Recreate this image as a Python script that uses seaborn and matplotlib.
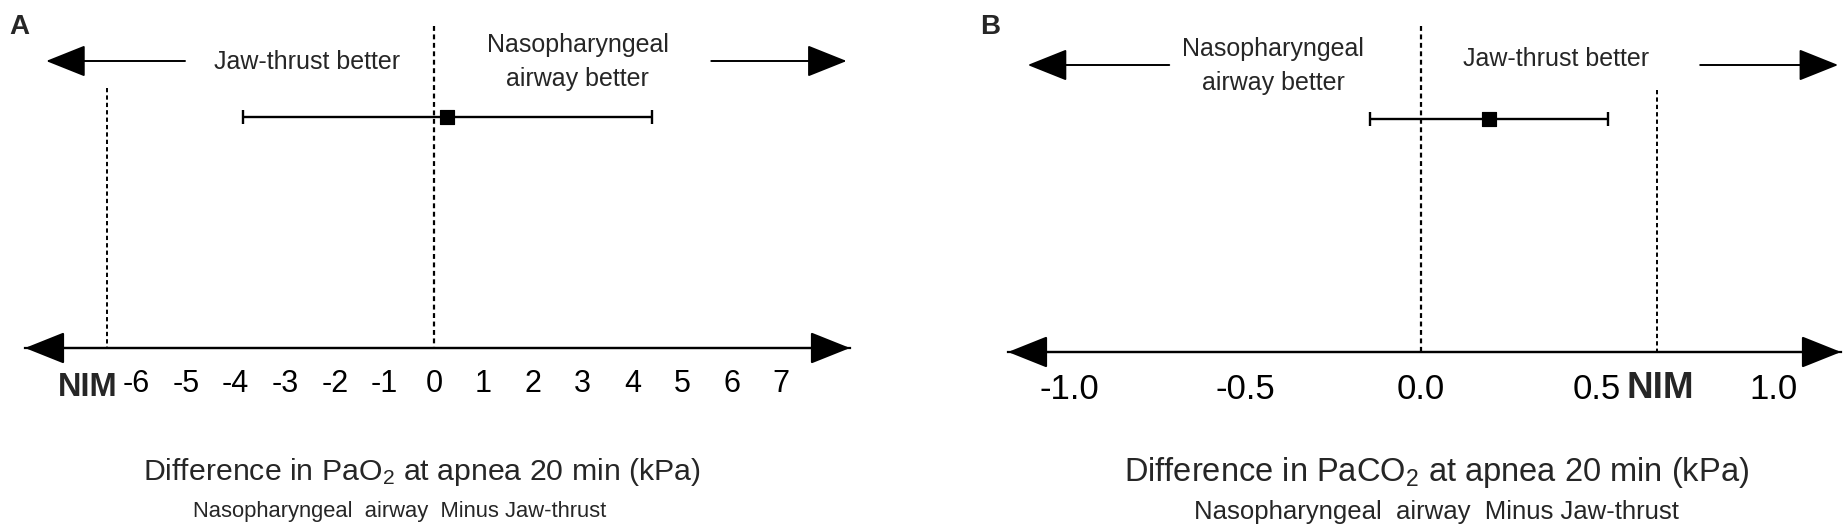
import numpy as np
import pandas as pd
import matplotlib
matplotlib.use('Agg')
import matplotlib.pyplot as plt
import seaborn as sns

# panel A: PaO2 difference (kPa)
est_a = 0.27
ci_a = [-3.85, 4.40]
nim_a = -6.6
ticks_a = [-6, -5, -4, -3, -2, -1, 0, 1, 2, 3, 4, 5, 6, 7]
ticklabels_a = ['-6', '-5', '-4', '-3', '-2', '-1', '0', '1', '2', '3', '4', '5', '6', '7']

# panel B: PaCO2 difference (kPa)
est_b = 0.193
ci_b = [-0.145, 0.53]
nim_b = 0.67
ticks_b = [-1.0, -0.5, 0.0, 0.5, 1.0]
ticklabels_b = ['-1.0', '-0.5', '0.0', '0.5', '1.0']

sns.set_style('white')
plt.rcParams['font.family'] = ['Liberation Sans', 'DejaVu Sans']
plt.rcParams['mathtext.fontset'] = 'custom'
plt.rcParams['mathtext.rm'] = 'Liberation Sans'
plt.rcParams['mathtext.it'] = 'Liberation Sans:italic'
plt.rcParams['mathtext.bf'] = 'Liberation Sans:bold'

W, H = 1845, 530
fig = plt.figure(figsize=(W / 100, H / 100), dpi=100)
fig.patch.set_facecolor('white')

ax_a = fig.add_axes([25 / W, 0, 825 / W, 1])
ax_b = fig.add_axes([1008 / W, 0, 833 / W, 1])


def draw_panel(ax, xlim, est, ci, nim, ticks, ticklabels, axis_y, bar_y,
               left_txt, right_txt, left_arrow, right_arrow, arrow_y,
               nim_x, nim_top, gas, letter, letter_x, tick_fs, title_fs,
               sub_fs, title_x, lab_y):
    ax.set_xlim(*xlim)
    ax.set_ylim(H, 0)
    ax.set_facecolor('none')
    for s in ['top', 'left', 'right']:
        ax.spines[s].set_visible(False)
    ax.spines['bottom'].set_position(('data', axis_y))
    ax.spines['bottom'].set_linewidth(1.6)
    ax.spines['bottom'].set_color('black')
    ax.set_yticks([])
    ax.set_xticks(ticks)
    ax.set_xticklabels(ticklabels)
    ax.tick_params(axis='x', direction='out', length=9, width=1.5,
                   labelsize=tick_fs, pad=6, colors='black')

    # axis arrow heads
    ax.annotate('', xy=(xlim[1], axis_y), xytext=(xlim[0], axis_y),
                arrowprops=dict(arrowstyle='<|-|>,head_length=0.45,head_width=0.18',
                                mutation_scale=56, lw=1.6, color='black',
                                shrinkA=0, shrinkB=0))

    # zero line and NIM line
    ax.vlines(0, 26, axis_y, colors='black', linestyles=(0, (2.2, 1.6)), lw=1.6)
    ax.vlines(nim, nim_top, axis_y, colors='black', linestyles=(0, (2.2, 1.6)), lw=1.4)

    # estimate with CI
    ax.errorbar(x=[est], y=[bar_y], xerr=[[est - ci[0]], [ci[1] - est]],
                fmt='none', ecolor='black', elinewidth=1.7, capsize=5, capthick=1.7)
    df = pd.DataFrame({'x': [est], 'y': [bar_y]})
    sns.scatterplot(data=df, x='x', y='y', marker='s', s=110, color='black',
                    edgecolor='black', ax=ax, zorder=5, legend=False)
    ax.set_xlabel('')
    ax.set_ylabel('')

    # direction arrows
    for (x0, x1) in [left_arrow, right_arrow]:
        ax.annotate('', xy=(x1, arrow_y), xytext=(x0, arrow_y),
                    arrowprops=dict(arrowstyle='-|>,head_length=0.45,head_width=0.18',
                                    mutation_scale=56, lw=1.4, color='black',
                                    shrinkA=0, shrinkB=0))
    ax.text(left_txt[0], left_txt[1], left_txt[2], ha='center', va='center',
            fontsize=18, linespacing=1.55)
    ax.text(right_txt[0], right_txt[1], right_txt[2], ha='center', va='center',
            fontsize=18, linespacing=1.55)

    ax.text(nim_x, lab_y, 'NIM', ha='center', va='center', fontsize=tick_fs + 1.5,
            fontweight='bold')

    ax.text(title_x[0], 472,
            r'Difference in Pa' + gas + r' at apnea 20 min (kPa)',
            ha='center', va='center', fontsize=title_fs)
    ax.text(title_x[1], 512, 'Nasopharyngeal  airway  Minus Jaw-thrust',
            ha='center', va='center', fontsize=sub_fs)

    fig.text(letter_x / W, 1 - 27 / H, letter, ha='left', va='center',
             fontsize=20, fontweight='bold')


# panel A: x pixel = 434 + 49.6 * value
draw_panel(ax_a, (-8.246, 8.387), est_a, ci_a, nim_a, ticks_a, ticklabels_a,
           axis_y=348, bar_y=117,
           left_txt=(-2.55, 62, 'Jaw-thrust better'),
           right_txt=(2.9, 62, 'Nasopharyngeal\nairway better'),
           left_arrow=(-5.02, -7.82), right_arrow=(5.59, 8.32), arrow_y=61,
           nim_x=-6.99, nim_top=88, gas=r'O$_\mathregular{2}$', letter='A', letter_x=9,
           tick_fs=22, title_fs=21.8, sub_fs=15.8,
           title_x=(-0.25, -0.7), lab_y=387)

# panel B: x pixel = 1421 + 352 * value
draw_panel(ax_b, (-1.173, 1.193), est_b, ci_b, nim_b, ticks_b, ticklabels_b,
           axis_y=352, bar_y=119,
           left_txt=(-0.42, 66, 'Nasopharyngeal\nairway better'),
           right_txt=(0.385, 59, 'Jaw-thrust better'),
           left_arrow=(-0.715, -1.117), right_arrow=(0.793, 1.185), arrow_y=65,
           nim_x=0.68, nim_top=90, gas=r'CO$_\mathregular{2}$', letter='B', letter_x=980,
           tick_fs=25, title_fs=23.5, sub_fs=18.5,
           title_x=(0.043, 0.043), lab_y=389)

fig.savefig('out.png', dpi=100, facecolor='white')
